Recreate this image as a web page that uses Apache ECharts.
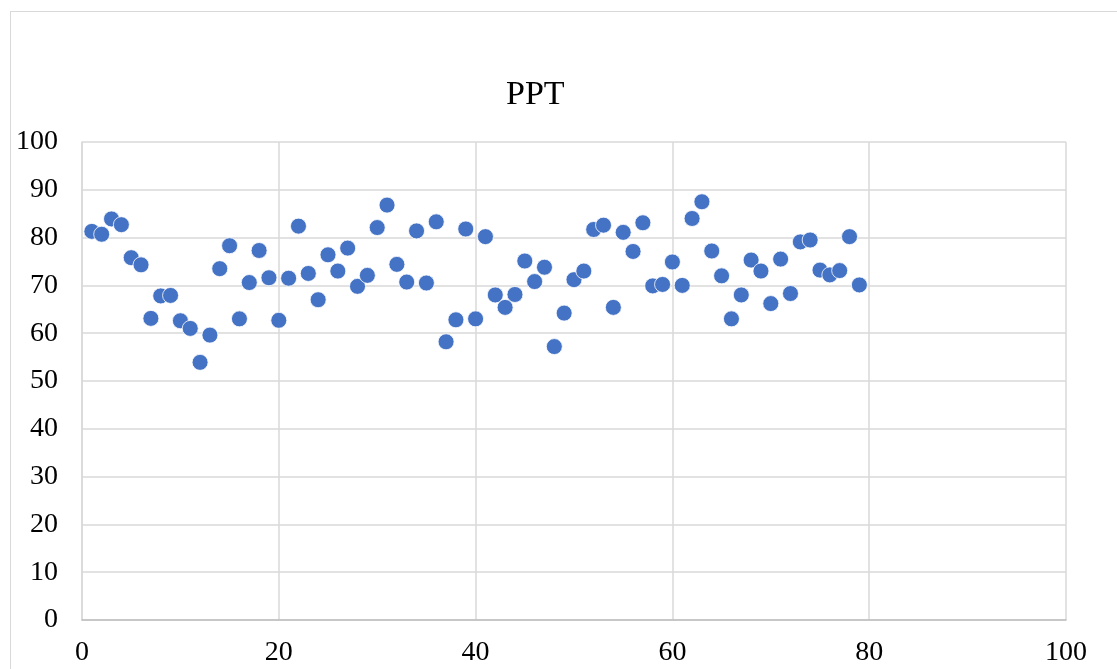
<!DOCTYPE html>
<html>
<head>
<meta charset="utf-8">
<script src="https://cdn.jsdelivr.net/npm/echarts@6/dist/echarts.min.js"></script>
<style>
  html, body { margin: 0; padding: 0; background: #fff; overflow: hidden; }
  #frame { position: absolute; left: 10px; top: 11px; width: 1200px; height: 800px;
           border: 1px solid #d9d9d9; box-sizing: border-box; }
  #chart { position: absolute; left: 0; top: 0; width: 1117px; height: 669px; }
</style>
</head>
<body>
<div id="frame"></div>
<div id="chart"></div>
<script>
// Sample index (1..79) and PPT readings
const sampleIndex = [];
for (let i = 1; i <= 79; i++) sampleIndex.push(i);

const pptValues = [
  81.3, 80.7, 83.9, 82.7, 75.8, 74.3, 63.1, 67.8, 67.9, 62.6,
  61.0, 53.9, 59.6, 73.5, 78.3, 63.0, 70.6, 77.3, 71.6, 62.7,
  71.5, 82.4, 72.5, 67.0, 76.4, 73.0, 77.8, 69.8, 72.1, 82.1,
  86.8, 74.4, 70.7, 81.4, 70.5, 83.3, 58.2, 62.8, 81.8, 63.0,
  80.2, 68.0, 65.4, 68.1, 75.1, 70.8, 73.8, 57.2, 64.2, 71.2,
  73.0, 81.7, 82.6, 65.4, 81.1, 77.1, 83.1, 69.9, 70.2, 74.9,
  70.0, 84.0, 87.5, 77.2, 72.0, 63.0, 68.0, 75.3, 73.0, 66.2,
  75.5, 68.3, 79.1, 79.5, 73.2, 72.2, 73.1, 80.2, 70.1
];

const xTicks = [0, 20, 40, 60, 80, 100];
const yTicks = [0, 10, 20, 30, 40, 50, 60, 70, 80, 90, 100];

const points = sampleIndex.map((x, i) => [x, pptValues[i]]);

const serif = '"Liberation Serif", "Times New Roman", serif';
const chart = echarts.init(document.getElementById('chart'));
chart.setOption({
  animation: false,
  backgroundColor: 'transparent',
  title: {
    text: 'PPT',
    left: 501,
    top: 73,
    textStyle: { fontFamily: serif, fontSize: 34, fontWeight: 'normal', color: '#000' }
  },
  grid: { left: 82, right: 51, top: 142, bottom: 49, containLabel: false },
  xAxis: {
    type: 'value',
    min: xTicks[0], max: xTicks[xTicks.length - 1], interval: 20,
    axisLine: { show: true, onZero: false, lineStyle: { color: '#bfbfbf', width: 1.5 } },
    axisTick: { show: false },
    splitLine: { show: true, lineStyle: { color: '#d9d9d9', width: 1.5 } },
    axisLabel: { fontFamily: serif, fontSize: 28, color: '#000', margin: 19 }
  },
  yAxis: {
    type: 'value',
    min: yTicks[0], max: yTicks[yTicks.length - 1], interval: 10,
    axisLine: { show: true, onZero: false, lineStyle: { color: '#d9d9d9', width: 1.5 } },
    axisTick: { show: false },
    splitLine: { show: true, lineStyle: { color: '#d9d9d9', width: 1.5 } },
    axisLabel: { fontFamily: serif, fontSize: 28, color: '#000', margin: 24 }
  },
  series: [{
    name: 'PPT',
    type: 'scatter',
    data: points,
    symbol: 'circle',
    symbolSize: 16,
    itemStyle: { color: '#4472C4', borderColor: '#ffffff', borderWidth: 0.8, opacity: 1 }
  }]
});
</script>
</body>
</html>
